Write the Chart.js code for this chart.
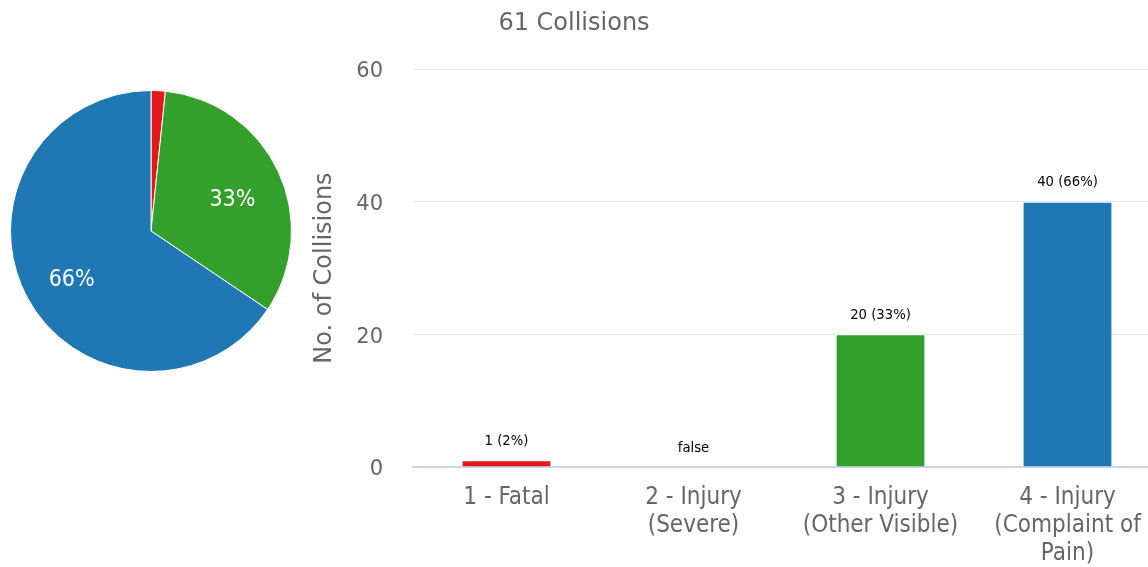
<!DOCTYPE html>
<html>
<head>
<meta charset="utf-8">
<script src="https://cdn.jsdelivr.net/npm/chart.js@4/dist/chart.umd.min.js"></script>
<style>
  html, body { margin: 0; padding: 0; background: #fff; overflow: hidden; width: 1148px; height: 567px; }
  .wrap { position: relative; width: 1148px; height: 567px; overflow: hidden; }
  #title { position: absolute; left: 0; top: 10px; width: 1148px; text-align: center;
           font: 24px/24px "DejaVu Sans", sans-serif; color: #666; }
  #pieChart { position: absolute; left: 10px; top: 90px; }
  #barChart { position: absolute; left: 0; top: 0; }
</style>
</head>
<body>
<div class="wrap">
  <canvas id="barChart" width="1200" height="567"></canvas>
  <canvas id="pieChart" width="282" height="282"></canvas>
  <div id="title">61 Collisions</div>
</div>
<script>
const categories = [
    ['1 - Fatal'],
    ['2 - Injury', '(Severe)'],
    ['3 - Injury', '(Other Visible)'],
    ['4 - Injury', '(Complaint of', 'Pain)']
];
const collisions = [1, 0, 20, 40];
const colors = ['#e31a1c', '#fb9a99', '#33a02c', '#1f78b4'];
const yTicks = [0, 20, 40, 60];

const CONDENSED = '"DejaVu Sans Condensed", "DejaVu Sans", sans-serif';
const NORMAL = '"DejaVu Sans", sans-serif';

const total = collisions.reduce((a, b) => a + b, 0);
const pct = v => Math.round(v / total * 100);

// labels above bars ("false" for empty ones, like the original)
const barLabels = {
    id: 'barLabels',
    afterDatasetsDraw(chart) {
        const ctx = chart.ctx;
        const meta = chart.getDatasetMeta(0);
        ctx.save();
        ctx.font = '14.7px ' + CONDENSED;
        ctx.fillStyle = '#000';
        ctx.textAlign = 'center';
        ctx.textBaseline = 'middle';
        meta.data.forEach((bar, i) => {
            const v = collisions[i];
            const txt = v === 0 ? 'false' : `${v} (${pct(v)}%)`;
            ctx.fillText(txt, bar.x, bar.y - 19);
        });
        ctx.restore();
    }
};

// percentage labels inside the pie slices
const pieLabels = {
    id: 'pieLabels',
    afterDatasetsDraw(chart) {
        const ctx = chart.ctx;
        const meta = chart.getDatasetMeta(0);
        ctx.save();
        ctx.font = '23px ' + CONDENSED;
        ctx.fillStyle = '#fff';
        ctx.textAlign = 'center';
        ctx.textBaseline = 'middle';
        meta.data.forEach((arc, i) => {
            const v = collisions[i];
            if (pct(v) < 5) return;
            const p = arc.getProps(['x', 'y', 'startAngle', 'endAngle', 'outerRadius']);
            const mid = (p.startAngle + p.endAngle) / 2;
            const r = p.outerRadius * 0.64;
            ctx.fillText(pct(v) + '%', p.x + Math.cos(mid) * r, p.y + Math.sin(mid) * r + 7);
        });
        ctx.restore();
    }
};

new Chart(document.getElementById('pieChart'), {
    type: 'pie',
    data: {
        labels: categories.map(c => c.join(' ')),
        datasets: [{
            data: collisions,
            backgroundColor: colors,
            borderColor: '#fff',
            borderWidth: 1
        }]
    },
    options: {
        responsive: false,
        animation: false,
        devicePixelRatio: 1,
        layout: { padding: 0 },
        plugins: { legend: { display: false }, tooltip: { enabled: false } }
    },
    plugins: [pieLabels]
});

new Chart(document.getElementById('barChart'), {
    type: 'bar',
    data: {
        labels: categories,
        datasets: [{
            data: collisions,
            backgroundColor: colors,
            borderColor: '#fff',
            borderWidth: 1,
            categoryPercentage: 1,
            barPercentage: 0.48
        }]
    },
    options: {
        responsive: false,
        animation: false,
        devicePixelRatio: 1,
        layout: { padding: { top: 69, right: 39, left: 0, bottom: 0 } },
        plugins: { legend: { display: false }, tooltip: { enabled: false } },
        scales: {
            x: {
                grid: { display: false, drawTicks: false },
                border: { color: '#ccd6eb', width: 2 },
                ticks: {
                    autoSkip: false,
                    maxRotation: 0,
                    padding: 17,
                    color: '#666',
                    font: { family: CONDENSED, size: 24, lineHeight: 28 / 24 }
                },
                afterFit(scale) { scale.height = 100; }
            },
            y: {
                min: 0,
                max: 60,
                afterBuildTicks(scale) { scale.ticks = yTicks.map(v => ({ value: v })); },
                grid: {
                    color: c => c.tick && c.tick.value === 0 ? 'rgba(0,0,0,0)' : '#e6e6e6',
                    drawTicks: false
                },
                border: { display: false },
                ticks: {
                    padding: 30,
                    labelOffset: 3,
                    color: '#666',
                    font: { family: NORMAL, size: 21 }
                },
                title: {
                    display: true,
                    text: 'No. of Collisions',
                    color: '#666',
                    font: { family: NORMAL, size: 24, lineHeight: 1.2 },
                    padding: { top: 310, bottom: 0 }
                },
                afterFit(scale) { scale.width = 413; }
            }
        }
    },
    plugins: [barLabels]
});
</script>
</body>
</html>
